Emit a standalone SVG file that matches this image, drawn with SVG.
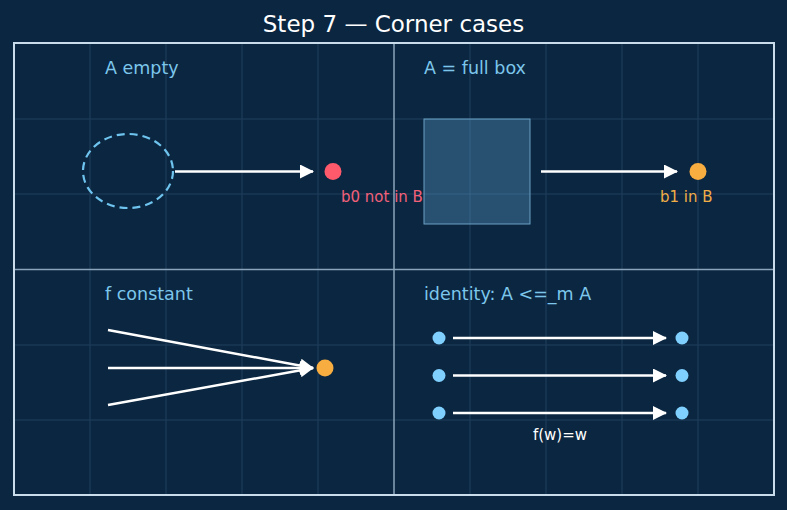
<svg xmlns="http://www.w3.org/2000/svg" width="787" height="510" viewBox="0 0 787 510">
<defs>
<style>
text{font-family:"DejaVu Sans","Liberation Sans",sans-serif}
.grid{stroke:#213f5c;stroke-width:1}
.lbl{fill:#7cc6ec;font-size:17.5px}
.arr{stroke:#ffffff;stroke-width:2.5;fill:none;marker-end:url(#ah)}
.dot{fill:#7fd0ff}
</style>
<marker id="ah" markerWidth="14" markerHeight="14" refX="13" refY="7" orient="auto" markerUnits="userSpaceOnUse">
<path d="M0,0 L14,7 L0,14 Z" fill="#ffffff"/>
</marker>
</defs>
<rect width="787" height="510" fill="#0b2640"/>
<g id="grid">
<path class="grid" d="M90,43V495M166,43V495M242,43V495M318,43V495M470,43V495M546,43V495M622,43V495M698,43V495M14,119H774M14,194H774M14,345H774M14,420H774"/>
<path d="M394,43V495M14,269.5H774" stroke="#8aa4bb" stroke-width="1.5"/>
<rect x="14" y="43" width="760" height="452" fill="none" stroke="#c8dcec" stroke-width="2"/>
</g>
<text x="393.5" y="32" text-anchor="middle" fill="#ffffff" font-size="23">Step 7 — Corner cases</text>
<g id="panel-empty">
<text class="lbl" x="105" y="74">A empty</text>
<ellipse cx="128" cy="171" rx="45" ry="37" fill="none" stroke="#6ec4ee" stroke-width="2.2" stroke-dasharray="8,5"/>
<circle cx="333" cy="171.5" r="8.5" fill="#ff5a6c"/>
<text x="341" y="202" fill="#f2607a" font-size="15">b0 not in B</text>
</g>
<g id="panel-full">
<text class="lbl" x="424" y="74">A = full box</text>
<rect x="424" y="119" width="106" height="105" fill="#7fd0ff" fill-opacity="0.25" stroke="#6aa0c4" stroke-width="1"/>
<circle cx="698" cy="171.5" r="8.5" fill="#f8ad40"/>
<text x="660" y="202" fill="#f0ad48" font-size="15">b1 in B</text>
</g>
<g id="panel-const">
<text class="lbl" x="105" y="300">f constant</text>
<circle cx="325" cy="368" r="8.5" fill="#f8ad40"/>
</g>
<g id="panel-identity">
<text class="lbl" x="424" y="300">identity: A &lt;=_m A</text>
<circle class="dot" cx="439" cy="338" r="6.5"/>
<circle class="dot" cx="439" cy="375.5" r="6.5"/>
<circle class="dot" cx="439" cy="413" r="6.5"/>
<circle class="dot" cx="682" cy="338" r="6.5"/>
<circle class="dot" cx="682" cy="375.5" r="6.5"/>
<circle class="dot" cx="682" cy="413" r="6.5"/>
<text x="560" y="440" text-anchor="middle" fill="#ffffff" font-size="15">f(w)=w</text>
</g>
<g id="connectors">
<line class="arr" x1="175" y1="171.5" x2="313" y2="171.5"/>
<line class="arr" x1="541" y1="171.5" x2="677" y2="171.5"/>
<line class="arr" x1="108" y1="330" x2="313" y2="368"/>
<line class="arr" x1="108" y1="368" x2="313" y2="368"/>
<line class="arr" x1="108" y1="405" x2="313" y2="368"/>
<line class="arr" x1="453" y1="338" x2="666" y2="338"/>
<line class="arr" x1="453" y1="375.5" x2="666" y2="375.5"/>
<line class="arr" x1="453" y1="413" x2="666" y2="413"/>
</g>
</svg>
